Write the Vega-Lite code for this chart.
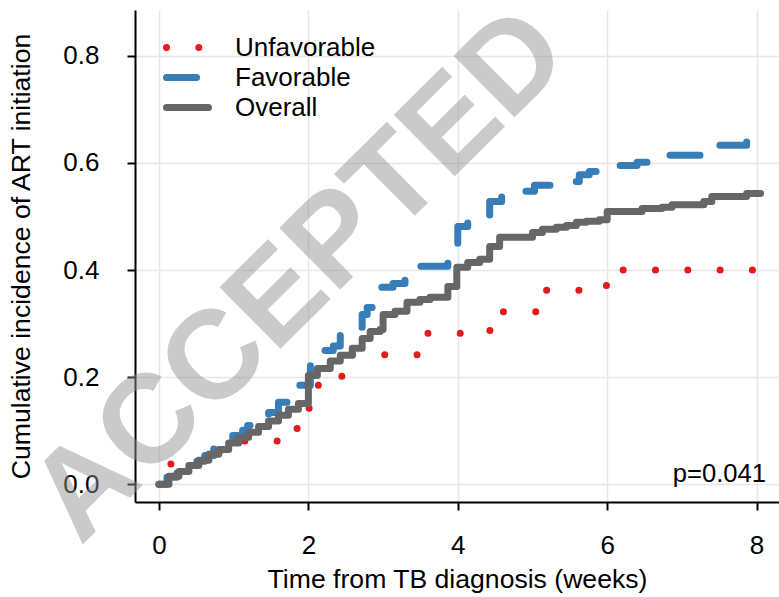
{
  "$schema": "https://vega.github.io/schema/vega-lite/v6.json",
  "width": 644,
  "height": 492,
  "autosize": {"type": "none"},
  "padding": {"left": 135, "top": 10, "right": 0, "bottom": 95},
  "background": "white",
  "config": {
    "view": {"stroke": null},
    "font": "Liberation Sans",
    "axis": {
      "domainColor": "black",
      "domainWidth": 2,
      "tickColor": "black",
      "tickWidth": 2,
      "tickSize": 8,
      "labelFont": "Liberation Sans",
      "labelFontSize": 26,
      "labelColor": "black",
      "labelFlush": false,
      "titleFont": "Liberation Sans",
      "titleFontSize": 26.6,
      "titleFontWeight": "normal",
      "titleColor": "black",
      "gridColor": "#e6e6e6",
      "gridWidth": 1.5
    },
    "legend": {
      "labelFont": "Liberation Sans",
      "labelFontSize": 26,
      "labelColor": "black"
    }
  },
  "datasets": {
    "curves": [
      {"group": "Unfavorable", "weeks": 0, "cuminc": 0},
      {"group": "Unfavorable", "weeks": 0.16, "cuminc": 0.043},
      {"group": "Unfavorable", "weeks": 0.73, "cuminc": 0.064},
      {"group": "Unfavorable", "weeks": 1.03, "cuminc": 0.081},
      {"group": "Unfavorable", "weeks": 1.73, "cuminc": 0.104},
      {"group": "Unfavorable", "weeks": 2.01, "cuminc": 0.185},
      {"group": "Unfavorable", "weeks": 2.29, "cuminc": 0.2015},
      {"group": "Unfavorable", "weeks": 2.53, "cuminc": 0.242},
      {"group": "Unfavorable", "weeks": 3.55, "cuminc": 0.282},
      {"group": "Unfavorable", "weeks": 4.43, "cuminc": 0.322},
      {"group": "Unfavorable", "weeks": 5.12, "cuminc": 0.362},
      {"group": "Unfavorable", "weeks": 5.99, "cuminc": 0.4},
      {"group": "Unfavorable", "weeks": 8.05, "cuminc": 0.4},

      {"group": "Favorable", "weeks": 0, "cuminc": 0},
      {"group": "Favorable", "weeks": 0.107, "cuminc": 0.013},
      {"group": "Favorable", "weeks": 0.24, "cuminc": 0.021},
      {"group": "Favorable", "weeks": 0.373, "cuminc": 0.032},
      {"group": "Favorable", "weeks": 0.507, "cuminc": 0.043},
      {"group": "Favorable", "weeks": 0.613, "cuminc": 0.054},
      {"group": "Favorable", "weeks": 0.733, "cuminc": 0.077},
      {"group": "Favorable", "weeks": 0.853, "cuminc": 0.084},
      {"group": "Favorable", "weeks": 0.987, "cuminc": 0.091},
      {"group": "Favorable", "weeks": 1.12, "cuminc": 0.101},
      {"group": "Favorable", "weeks": 1.187, "cuminc": 0.11},
      {"group": "Favorable", "weeks": 1.333, "cuminc": 0.121},
      {"group": "Favorable", "weeks": 1.467, "cuminc": 0.134},
      {"group": "Favorable", "weeks": 1.6, "cuminc": 0.153},
      {"group": "Favorable", "weeks": 1.72, "cuminc": 0.17},
      {"group": "Favorable", "weeks": 1.827, "cuminc": 0.185},
      {"group": "Favorable", "weeks": 2.027, "cuminc": 0.25},
      {"group": "Favorable", "weeks": 2.333, "cuminc": 0.258},
      {"group": "Favorable", "weeks": 2.427, "cuminc": 0.293},
      {"group": "Favorable", "weeks": 2.72, "cuminc": 0.317},
      {"group": "Favorable", "weeks": 2.787, "cuminc": 0.33},
      {"group": "Favorable", "weeks": 2.96, "cuminc": 0.368},
      {"group": "Favorable", "weeks": 3.133, "cuminc": 0.375},
      {"group": "Favorable", "weeks": 3.293, "cuminc": 0.396},
      {"group": "Favorable", "weeks": 3.36, "cuminc": 0.407},
      {"group": "Favorable", "weeks": 3.867, "cuminc": 0.438},
      {"group": "Favorable", "weeks": 4.0, "cuminc": 0.481},
      {"group": "Favorable", "weeks": 4.133, "cuminc": 0.491},
      {"group": "Favorable", "weeks": 4.427, "cuminc": 0.528},
      {"group": "Favorable", "weeks": 4.587, "cuminc": 0.547},
      {"group": "Favorable", "weeks": 5.027, "cuminc": 0.558},
      {"group": "Favorable", "weeks": 5.253, "cuminc": 0.565},
      {"group": "Favorable", "weeks": 5.627, "cuminc": 0.578},
      {"group": "Favorable", "weeks": 5.76, "cuminc": 0.584},
      {"group": "Favorable", "weeks": 5.867, "cuminc": 0.591},
      {"group": "Favorable", "weeks": 6.027, "cuminc": 0.595},
      {"group": "Favorable", "weeks": 6.4, "cuminc": 0.601},
      {"group": "Favorable", "weeks": 6.693, "cuminc": 0.614},
      {"group": "Favorable", "weeks": 7.267, "cuminc": 0.621},
      {"group": "Favorable", "weeks": 7.387, "cuminc": 0.633},
      {"group": "Favorable", "weeks": 7.867, "cuminc": 0.644},
      {"group": "Favorable", "weeks": 8.053, "cuminc": 0.644},

      {"group": "Overall", "weeks": 0, "cuminc": 0},
      {"group": "Overall", "weeks": 0.133, "cuminc": 0.015},
      {"group": "Overall", "weeks": 0.267, "cuminc": 0.024},
      {"group": "Overall", "weeks": 0.4, "cuminc": 0.035},
      {"group": "Overall", "weeks": 0.533, "cuminc": 0.045},
      {"group": "Overall", "weeks": 0.667, "cuminc": 0.056},
      {"group": "Overall", "weeks": 0.8, "cuminc": 0.065},
      {"group": "Overall", "weeks": 0.933, "cuminc": 0.077},
      {"group": "Overall", "weeks": 1.067, "cuminc": 0.088},
      {"group": "Overall", "weeks": 1.2, "cuminc": 0.097},
      {"group": "Overall", "weeks": 1.333, "cuminc": 0.108},
      {"group": "Overall", "weeks": 1.467, "cuminc": 0.118},
      {"group": "Overall", "weeks": 1.6, "cuminc": 0.129},
      {"group": "Overall", "weeks": 1.733, "cuminc": 0.14},
      {"group": "Overall", "weeks": 1.867, "cuminc": 0.151},
      {"group": "Overall", "weeks": 2.0, "cuminc": 0.203},
      {"group": "Overall", "weeks": 2.12, "cuminc": 0.216},
      {"group": "Overall", "weeks": 2.293, "cuminc": 0.23},
      {"group": "Overall", "weeks": 2.427, "cuminc": 0.241},
      {"group": "Overall", "weeks": 2.587, "cuminc": 0.254},
      {"group": "Overall", "weeks": 2.72, "cuminc": 0.272},
      {"group": "Overall", "weeks": 2.827, "cuminc": 0.285},
      {"group": "Overall", "weeks": 2.96, "cuminc": 0.289},
      {"group": "Overall", "weeks": 3.0, "cuminc": 0.317},
      {"group": "Overall", "weeks": 3.16, "cuminc": 0.323},
      {"group": "Overall", "weeks": 3.32, "cuminc": 0.34},
      {"group": "Overall", "weeks": 3.493, "cuminc": 0.345},
      {"group": "Overall", "weeks": 3.627, "cuminc": 0.349},
      {"group": "Overall", "weeks": 3.867, "cuminc": 0.369},
      {"group": "Overall", "weeks": 3.987, "cuminc": 0.405},
      {"group": "Overall", "weeks": 4.133, "cuminc": 0.414},
      {"group": "Overall", "weeks": 4.293, "cuminc": 0.42},
      {"group": "Overall", "weeks": 4.427, "cuminc": 0.444},
      {"group": "Overall", "weeks": 4.56, "cuminc": 0.461},
      {"group": "Overall", "weeks": 5.0, "cuminc": 0.47},
      {"group": "Overall", "weeks": 5.133, "cuminc": 0.476},
      {"group": "Overall", "weeks": 5.32, "cuminc": 0.48},
      {"group": "Overall", "weeks": 5.453, "cuminc": 0.483},
      {"group": "Overall", "weeks": 5.587, "cuminc": 0.489},
      {"group": "Overall", "weeks": 5.72, "cuminc": 0.491},
      {"group": "Overall", "weeks": 5.893, "cuminc": 0.494},
      {"group": "Overall", "weeks": 6.0, "cuminc": 0.509},
      {"group": "Overall", "weeks": 6.467, "cuminc": 0.515},
      {"group": "Overall", "weeks": 6.733, "cuminc": 0.517},
      {"group": "Overall", "weeks": 6.867, "cuminc": 0.522},
      {"group": "Overall", "weeks": 7.293, "cuminc": 0.528},
      {"group": "Overall", "weeks": 7.4, "cuminc": 0.537},
      {"group": "Overall", "weeks": 7.867, "cuminc": 0.543},
      {"group": "Overall", "weeks": 8.053, "cuminc": 0.543}
    ]
  },
  "layer": [
    {
      "data": {"name": "curves"},
      "mark": {"type": "line", "interpolate": "step-after", "strokeWidth": 7, "strokeCap": "round", "strokeJoin": "round"},
      "encoding": {
        "x": {
          "field": "weeks", "type": "quantitative",
          "scale": {"domain": [-0.321, 8.3], "nice": false, "zero": false},
          "axis": {"values": [0, 2, 4, 6, 8], "format": "d", "title": "Time from TB diagnosis (weeks)", "labelPadding": 22, "titlePadding": 8, "grid": true}
        },
        "y": {
          "field": "cuminc", "type": "quantitative",
          "scale": {"domain": [-0.033, 0.8853], "nice": false, "zero": false},
          "axis": {"values": [0, 0.2, 0.4, 0.6, 0.8], "format": ".1f", "title": "Cumulative incidence of ART initiation", "labelPadding": 28, "titlePadding": 27, "grid": true}
        },
        "color": {
          "field": "group", "type": "nominal",
          "scale": {"domain": ["Unfavorable", "Favorable", "Overall"], "range": ["#E41A1C", "#377EB8", "#666666"]},
          "legend": {"title": null, "orient": "none", "legendX": 37, "legendY": 22, "padding": 0, "symbolType": "M-1.787,0L1.787,0", "symbolSize": 552, "symbolStrokeWidth": 7, "labelOffset": 32, "rowPadding": 0,
            "encode": {"symbols": {"update": {"strokeCap": {"value": "round"}, "fill": {"value": "transparent"}, "strokeDash": {"signal": "datum.value === 'Unfavorable' ? [0.01, 41] : datum.value === 'Favorable' ? [30, 30] : [1, 0]"}}}}}
        },
        "strokeDash": {
          "field": "group", "type": "nominal",
          "scale": {"domain": ["Unfavorable", "Favorable", "Overall"], "range": [[0.01, 32.3], [30, 30], [1, 0]]},
          "legend": {"title": null, "orient": "none", "legendX": 37, "legendY": 22, "padding": 0, "symbolType": "M-1.787,0L1.787,0", "symbolSize": 552, "symbolStrokeWidth": 7, "labelOffset": 32, "rowPadding": 0,
            "encode": {"symbols": {"update": {"strokeCap": {"value": "round"}, "fill": {"value": "transparent"}, "strokeDash": {"signal": "datum.value === 'Unfavorable' ? [0.01, 41] : datum.value === 'Favorable' ? [30, 30] : [1, 0]"}}}}}
        }
      }
    },
    {
      "data": {"values": [{}]},
      "mark": {"type": "text", "text": "p=0.041", "align": "right", "baseline": "alphabetic", "fontSize": 25.6, "font": "Liberation Sans", "color": "black"},
      "encoding": {"x": {"datum": 8.126}, "y": {"datum": 0.0049}}
    },
    {
      "data": {"values": [{}]},
      "mark": {"type": "text", "text": "ACCEPTED", "align": "center", "baseline": "middle", "fontSize": 126, "fontWeight": "bold", "font": "Liberation Sans", "angle": -44.7, "fill": "#909090", "stroke": null, "fillOpacity": 0.48},
      "encoding": {"x": {"datum": 1.888}, "y": {"datum": 0.389}}
    }
  ]
}
